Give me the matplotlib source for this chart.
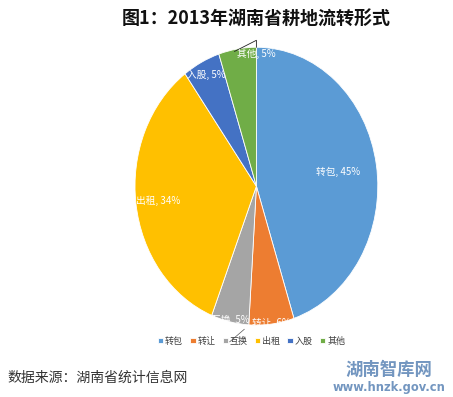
import numpy as np
import matplotlib
matplotlib.use("Agg")
import matplotlib.pyplot as plt

plt.rcParams['font.family'] = ['Noto Sans CJK SC', 'DejaVu Sans']

## Data
categories = ['转包', '转让', '互换', '出租', '入股', '其他']
shares = [45, 6, 5, 34, 5, 5]
colors = ['#5B9BD5', '#ED7D31', '#A5A5A5', '#FFC000', '#4472C4', '#70AD47']

TITLE = '图1：2013年湖南省耕地流转形式'
SOURCE = '数据来源：湖南省统计信息网'


def main():
    fig = plt.figure(figsize=(4.53, 3.97), dpi=100)
    ## pie is stretched vertically in the reference, so no equal aspect
    ax = fig.add_axes([0.298, 0.181, 0.536, 0.700])

    wedges, _ = ax.pie(shares, colors=colors, startangle=90, counterclock=False,
                       wedgeprops={'edgecolor': 'white', 'linewidth': 0.6})
    ax.set_aspect('auto')
    ax.set_xlim(-1, 1)
    ax.set_ylim(-1, 1)
    ax.axis('off')

    ## Data labels (white, inside the slices)
    label_r = [0.68, 0.99, 0.99, 0.82, 0.90, 0.96]
    for w, name, val, r in zip(wedges, categories, shares, label_r):
        mid = np.deg2rad((w.theta1 + w.theta2) / 2)
        x, y = r * np.cos(mid), r * np.sin(mid)
        if name == '其他':
            x = 0.0
        ax.text(x, y, f'{name}, {val}%', color='white', fontsize=7,
                ha='center', va='center', zorder=5)

    ## small leader lines of the crowded labels
    ax.plot([-0.18, 0.0, 0.0], [0.97, 1.05, 1.0], color='#222222', lw=0.6, clip_on=False)
    ax.plot([-0.22, -0.10], [-1.12, -1.03], color='#555555', lw=0.5, clip_on=False)

    ## Title
    fig.text(0.566, 1 - 19 / 397, TITLE, fontsize=13, weight='bold',
             ha='center', va='center', color='#111111')

    ## Legend
    fig.legend(wedges, categories, loc='center', bbox_to_anchor=(0.555, 0.141),
               ncol=6, frameon=False, fontsize=6.5, handlelength=0.6,
               handleheight=0.6, handletextpad=0.2, columnspacing=0.8,
               labelcolor='#404040')

    ## Source and watermark
    fig.text(7 / 453, 1 - 378 / 397, SOURCE, fontsize=10, color='#333333',
             ha='left', va='center')
    fig.text(0.858, 0.068, '湖南智库网', fontsize=12.5, weight='bold',
             color='#7396c0', ha='center', va='center')
    fig.text(0.859, 0.023, 'www.hnzk.gov.cn', fontsize=8.3, weight='bold',
             color='#7396c0', ha='center', va='center', family='DejaVu Sans')

    fig.savefig('out.png', dpi=100, facecolor='white')


if __name__ == '__main__':
    main()
